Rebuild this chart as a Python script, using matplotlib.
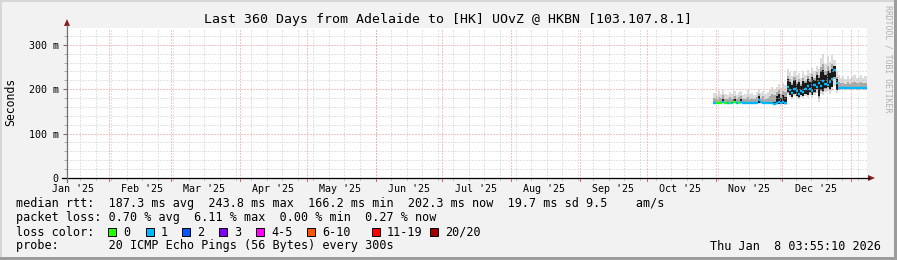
import numpy as np
import pandas as pd
import matplotlib
matplotlib.use('Agg')
import matplotlib.pyplot as plt
import matplotlib.dates as mdates
from matplotlib.lines import Line2D
from matplotlib.patches import Rectangle, Polygon

W, H = 897, 260
MONO = 'DejaVu Sans Mono'

# DATA
title = "Last 360 Days from Adelaide to [HK] UOvZ @ HKBN [103.107.8.1]"
t_end = pd.Timestamp('2026-01-08 03:55:10')
t_start = t_end - pd.Timedelta(days=360)
days = pd.date_range('2025-10-31', '2026-01-07', freq='D')

# per-day median rtt (ms), Oct 31 .. Jan 7
median_ms = [169, 168, 169, 170, 172, 169, 168, 168, 169, 171,
             169, 170, 172, 169, 168, 168, 169, 168, 169, 170,
             176, 171, 168, 168, 168, 169, 168, 166, 170, 172,
             168, 171, 169, 205, 198, 192, 200, 196, 190, 197,
             193, 200, 207, 201, 196, 210, 205, 214, 208, 218,
             212, 209, 216, 222, 244, 215, 203, 202, 202, 202,
             203, 202, 202, 202, 203, 202, 202, 202, 202]

# smoke: min / max ping
ping_lo = [166, 166, 167, 167, 167, 166, 166, 166, 167, 167,
           166, 167, 167, 166, 166, 166, 167, 166, 166, 167,
           167, 167, 166, 166, 166, 166, 166, 164, 165, 166,
           165, 166, 165, 186, 182, 179, 184, 180, 177, 182,
           180, 184, 181, 187, 180, 186, 192, 172, 190, 188,
           193, 195, 190, 197, 208, 192, 199, 199, 200, 199,
           200, 199, 199, 200, 199, 199, 200, 199, 199]
ping_hi = [192, 188, 195, 190, 198, 189, 186, 193, 190, 197,
           188, 194, 196, 187, 190, 199, 189, 192, 188, 194,
           200, 191, 196, 189, 193, 198, 204, 199, 206, 212,
           203, 214, 209, 246, 238, 229, 242, 231, 236, 226,
           240, 233, 244, 236, 248, 240, 252, 246, 270, 279,
           258, 274, 262, 278, 266, 240, 232, 226, 229, 224,
           230, 222, 227, 231, 225, 228, 233, 226, 229]

# smoke: outer-middle pings
ping_p10 = [167, 167, 168, 168, 168, 167, 167, 167, 168, 168,
            167, 168, 168, 167, 167, 167, 168, 167, 167, 168,
            168, 168, 167, 167, 167, 167, 167, 165, 166, 167,
            166, 167, 166, 192, 187, 183, 189, 184, 181, 186,
            184, 189, 186, 192, 186, 191, 198, 180, 197, 194,
            200, 202, 198, 204, 222, 198, 200, 200, 201, 200,
            201, 200, 200, 201, 200, 200, 201, 200, 200]
ping_p90 = [180, 178, 183, 180, 186, 179, 177, 182, 179, 185,
            178, 182, 184, 177, 179, 183, 178, 181, 178, 182,
            190, 180, 184, 178, 181, 185, 189, 186, 194, 199,
            190, 197, 193, 230, 222, 215, 228, 217, 222, 212,
            226, 219, 230, 222, 234, 226, 238, 232, 250, 256,
            240, 252, 244, 256, 252, 228, 216, 213, 215, 212,
            216, 211, 214, 216, 213, 215, 217, 213, 215]

# smoke: inner pings (darkest)
ping_core_lo = [168, 167, 168, 169, 169, 168, 167, 167, 168, 169,
                168, 169, 169, 168, 167, 167, 168, 167, 168, 169,
                170, 170, 167, 167, 167, 168, 167, 165, 166, 167,
                166, 167, 166, 194, 188, 183, 190, 185, 182, 187,
                185, 190, 187, 194, 186, 193, 200, 184, 199, 196,
                202, 204, 200, 206, 228, 199, 201, 201, 201, 201,
                202, 201, 201, 201, 201, 201, 201, 201, 201]
ping_core_hi = [171, 170, 171, 172, 178, 171, 170, 170, 171, 178,
                171, 172, 178, 171, 170, 170, 171, 170, 171, 172,
                184, 173, 170, 170, 170, 171, 170, 172, 184, 190,
                180, 188, 183, 224, 216, 210, 221, 212, 217, 208,
                219, 214, 224, 217, 227, 220, 231, 225, 240, 244,
                231, 242, 236, 246, 252, 222, 205, 204, 204, 204,
                205, 204, 204, 204, 204, 204, 204, 204, 204]

# loss bucket per day (index into loss_labels)
loss_bucket = [1, 0, 0, 0, 1, 0, 1, 0, 1, 0,
               1, 0, 1, 1, 1, 1, 1, 1, 1, 1,
               1, 1, 1, 1, 1, 1, 1, 1, 1, 1,
               1, 1, 1, 1, 1, 1, 1, 1, 1, 1,
               1, 1, 1, 1, 1, 1, 1, 1, 1, 1,
               1, 1, 1, 1, 1, 1, 1, 1, 1, 1,
               1, 1, 1, 1, 1, 1, 1, 1, 1]

loss_labels = ['0', '1', '2', '3', '4-5', '6-10', '11-19', '20/20']
loss_colors = ['#26ff00', '#00b8ff', '#0059ff', '#7e00ff',
               '#ff00ff', '#ff5500', '#ff0000', '#a10000']

y_ticks = [0, 100, 200, 300]
y_tick_labels = ['0', '100 m', '200 m', '300 m']

rtt_stats = [187.3, 243.8, 166.2, 202.3]
rtt_sd = 19.7
rtt_ams = 9.5
loss_stats = [0.70, 6.11, 0.00, 0.27]
probe_text = "20 ICMP Echo Pings (56 Bytes) every 300s"
stamp_text = "Thu Jan  8 03:55:10 2026"


def fx(px):
    # pixel column -> figure fraction
    return px / W


def fy(py):
    # pixel row (from top) -> figure fraction
    return 1 - py / H


fig = plt.figure(figsize=(W / 100, H / 100), dpi=100, facecolor='#f2f2f2')
ax = fig.add_axes([fx(67), fy(178), 800 / W, 150 / H])
ax.set_facecolor('white')
for s in ax.spines.values():
    s.set_visible(False)

x0 = mdates.date2num(days)
ax.set_xlim(mdates.date2num(t_start), mdates.date2num(t_end))
ax.set_ylim(0, 338)

# smoke bands, outer to inner
lo = np.array(ping_lo); hi = np.array(ping_hi)
ax.bar(x0, hi - lo, bottom=lo, width=1, align='edge', color='#dcdcdc', lw=0, zorder=1)
p10 = np.array(ping_p10); p90 = np.array(ping_p90)
ax.bar(x0, p90 - p10, bottom=p10, width=1, align='edge', color='#a8a8a8', lw=0, zorder=1.1)
clo = np.array(ping_core_lo); chi = np.array(ping_core_hi)
ax.bar(x0, chi - clo, bottom=clo, width=1, align='edge', color='#1a1a1a', lw=0, zorder=1.2)

# grid (rrdtool draws it over the graph)
dot = (0, (1, 2))
for v in range(20, 340, 20):
    if v % 100:
        ax.axhline(v, color='#c8c8c8', lw=0.72, ls=dot, zorder=3)
for v in y_ticks[1:]:
    ax.axhline(v, color='#f08c8c', lw=0.72, ls=dot, zorder=3.1)
weeks = pd.date_range(t_start.normalize(), t_end, freq='W-SUN')
for d in weeks:
    ax.axvline(mdates.date2num(d), color='#c8c8c8', lw=0.72, ls=dot, zorder=3)
months = pd.date_range('2025-02-01', t_end, freq='MS')
for d in months:
    ax.axvline(mdates.date2num(d), color='#f08c8c', lw=0.72, ls=dot, zorder=3.1)

# median line coloured by loss
ax.hlines(median_ms, x0, x0 + 1, colors=[loss_colors[b] for b in loss_bucket], lw=1.7, zorder=4)

# ticks and labels
ax.set_yticks(y_ticks)
ax.set_yticklabels(y_tick_labels, fontfamily=MONO, fontsize=7.2)
ax.set_yticks(range(20, 340, 20), minor=True)
ax.tick_params(axis='y', which='major', length=3, color='#707070', pad=3)
ax.tick_params(axis='y', which='minor', length=2, color='#a0a0a0')
mids = pd.date_range('2025-01-01', '2025-12-01', freq='MS') + pd.Timedelta(days=15)
ax.set_xticks(mdates.date2num(mids))
ax.set_xticklabels([d.strftime("%b '%y") for d in mids], fontfamily=MONO, fontsize=7.2)
ax.tick_params(axis='x', length=0, pad=4.5)
xt = ax.get_xaxis_transform()
for d in weeks:
    ax.plot([mdates.date2num(d)] * 2, [0, -0.01], color='#c0c0c0', lw=0.7, transform=xt, clip_on=False)
for d in months:
    ax.plot([mdates.date2num(d)] * 2, [0, -0.017], color='#e06060', lw=0.7, transform=xt, clip_on=False)

# axis lines with arrows
fig.add_artist(Line2D([fx(62), fx(869)], [fy(178), fy(178)], color='black', lw=0.9))
fig.add_artist(Line2D([fx(67), fx(67)], [fy(182), fy(25)], color='#707070', lw=0.9))
fig.add_artist(Polygon([[fx(868), fy(175)], [fx(875), fy(178)], [fx(868), fy(181)]],
                       closed=True, color='#8b1a1a', lw=0))
fig.add_artist(Polygon([[fx(64), fy(26)], [fx(67), fy(19)], [fx(70), fy(26)]],
                       closed=True, color='#8b1a1a', lw=0))

# texts
fig.text(fx(448), fy(19), title, ha='center', va='center', fontsize=9.5, family=MONO)
fig.text(fx(11), fy(102), 'Seconds', rotation=90, ha='center', va='center', fontsize=8.3, family=MONO)
fig.text(fx(888), fy(59), 'RRDTOOL / TOBI OETIKER', rotation=270, ha='center', va='center',
         fontsize=5.9, family=MONO, color='#b0b0b0')

row1 = "median rtt:  %.1f ms avg  %.1f ms max  %.1f ms min  %.1f ms now  %.1f ms sd %.1f    am/s" % (
    rtt_stats[0], rtt_stats[1], rtt_stats[2], rtt_stats[3], rtt_sd, rtt_ams)
row2 = "packet loss: %.2f %% avg  %.2f %% max  %.2f %% min  %.2f %% now" % tuple(loss_stats)
fs = 8.5
fig.text(fx(16), fy(204), row1, ha='left', va='center', fontsize=fs, family=MONO)
fig.text(fx(16), fy(218), row2, ha='left', va='center', fontsize=fs, family=MONO)
fig.text(fx(16), fy(232), "loss color:", ha='left', va='center', fontsize=fs, family=MONO)
fig.text(fx(16), fy(246), "probe:       " + probe_text, ha='left', va='center', fontsize=fs, family=MONO)
fig.text(fx(881), fy(246), stamp_text, ha='right', va='center', fontsize=fs, family=MONO)

box_x = [108, 146, 182, 219, 256, 307, 372, 430]
for bx, lab, col in zip(box_x, loss_labels, loss_colors):
    fig.add_artist(Rectangle((fx(bx), fy(236)), 8 / W, 8 / H, facecolor=col,
                             edgecolor='black', lw=0.7))
    fig.text(fx(bx + 15), fy(232), lab, ha='left', va='center', fontsize=fs, family=MONO)

# 3d frame round the image
fig.add_artist(Rectangle((0, fy(2)), 1, 2 / H, color='#d6d6d6', lw=0))
fig.add_artist(Rectangle((0, 0), 2 / W, 1, color='#d6d6d6', lw=0))
fig.add_artist(Rectangle((0, 0), 1, 3 / H, color='#9c9c9c', lw=0))
fig.add_artist(Rectangle((fx(894), 0), 3 / W, 1, color='#9c9c9c', lw=0))

fig.savefig('out.png', dpi=100, facecolor=fig.get_facecolor())
